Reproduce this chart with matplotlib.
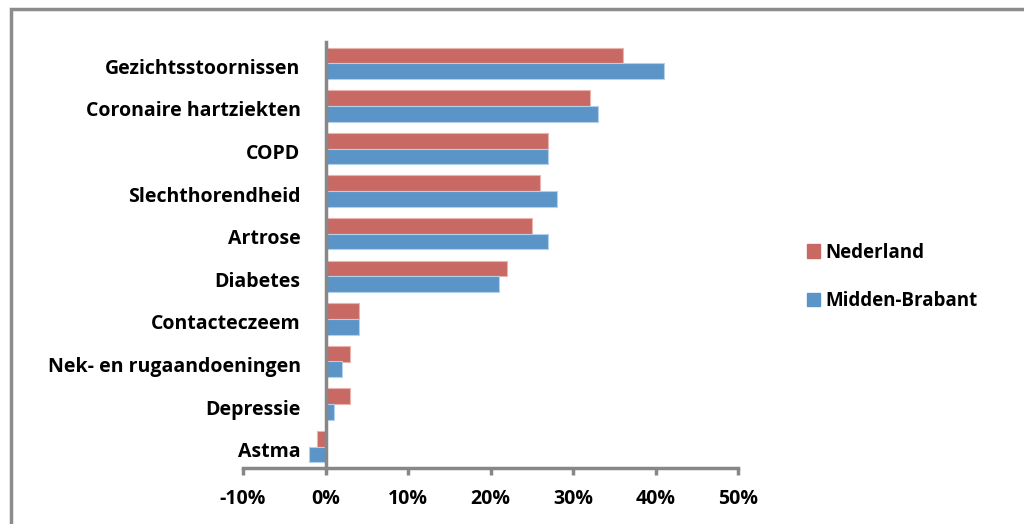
import matplotlib
matplotlib.use("Agg")
import matplotlib.pyplot as plt
import matplotlib.transforms as mtransforms
import numpy as np
from matplotlib.patches import Rectangle, Patch
from matplotlib.ticker import FuncFormatter

plt.rcParams["font.family"] = ["Open Sans", "DejaVu Sans"]
plt.rcParams["font.weight"] = "bold"

# ── data ──────────────────────────────────────────
categories = ["Gezichtsstoornissen", "Coronaire hartziekten", "COPD",
              "Slechthorendheid", "Artrose", "Diabetes", "Contacteczeem",
              "Nek- en rugaandoeningen", "Depressie", "Astma"]
nederland = [36, 32, 27, 26, 25, 22, 4, 3, 3, -1]
midden_brabant = [41, 33, 27, 28, 27, 21, 4, 2, 1, -2]
series_names = ["Nederland", "Midden-Brabant"]
x_ticks = [-10, 0, 10, 20, 30, 40, 50]

red = "#C86963"
blue = "#5B95C7"
axis_gray = "#878787"

fig = plt.figure(figsize=(10.24, 5.24), dpi=100)
ax = fig.add_axes([243 / 1024, 1 - 468 / 524, (738 - 243) / 1024, (468 - 42) / 524])

y = np.arange(len(categories))
h = 0.37
ax.barh(y - h / 2, nederland, height=h, color=red, edgecolor="#E8B4B0", linewidth=0.8)
ax.barh(y + h / 2, midden_brabant, height=h, color=blue, edgecolor="#B4D0EA", linewidth=0.8)

ax.set_ylim(len(categories) - 0.5, -0.5)
ax.set_xlim(-10, 50)
ax.set_xticks(x_ticks)
ax.xaxis.set_major_formatter(FuncFormatter(lambda v, p: f"{v:.0f}%"))
ax.set_yticks(y)
ax.set_yticklabels(categories)

for s in ["top", "right"]:
    ax.spines[s].set_visible(False)
ax.spines["left"].set_position(("data", 0))
for s in ["left", "bottom"]:
    ax.spines[s].set_color(axis_gray)
    ax.spines[s].set_linewidth(2.5)

ax.tick_params(axis="y", length=0, pad=18, labelsize=14)
ax.tick_params(axis="x", length=5, width=2.5, color=axis_gray, pad=10, labelsize=14)

# nudge category labels slightly down, like the original
shift = mtransforms.ScaledTranslation(0, -3 / 100, fig.dpi_scale_trans)
for lbl in ax.get_yticklabels():
    lbl.set_transform(lbl.get_transform() + shift)

handles = [Patch(color=red), Patch(color=blue)]
fig.legend(handles, series_names, loc="upper left",
           bbox_to_anchor=(799 / 1024, 1 - 235 / 524), frameon=False,
           fontsize=13.5, handlelength=0.7, handleheight=0.7,
           handletextpad=0.3, labelspacing=1.5, borderaxespad=0)

# outer chart border (top and left visible)
fig.patches.append(Rectangle((11 / 1024, -0.1), 1.2, 1 - 9 / 524 + 0.1,
                             transform=fig.transFigure, fill=False,
                             edgecolor="#8C8C8C", linewidth=2.5))

fig.savefig("out.png", dpi=100)
